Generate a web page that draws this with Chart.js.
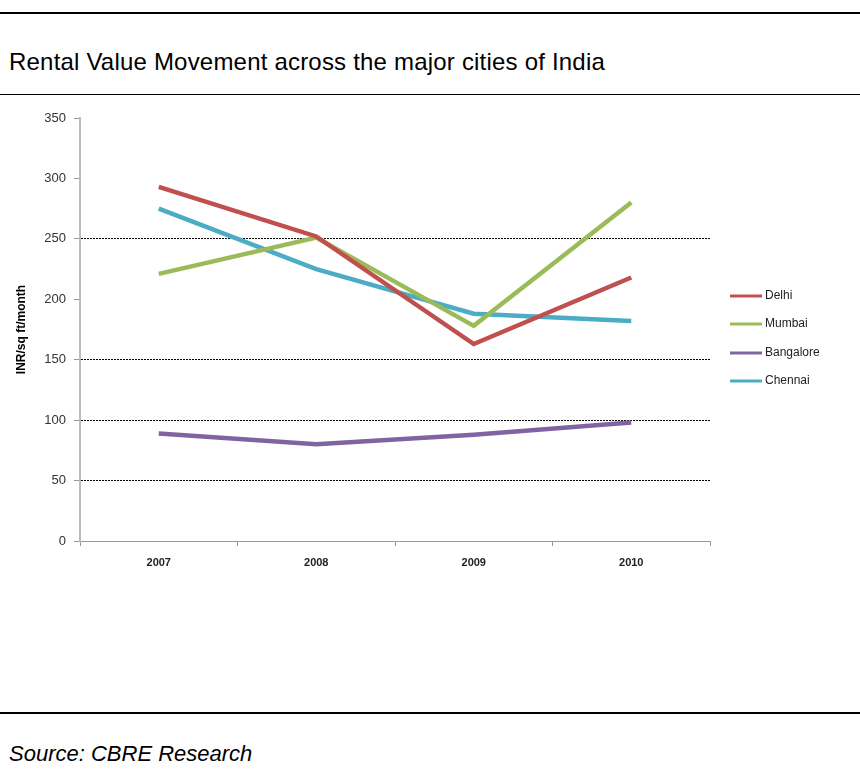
<!DOCTYPE html>
<html>
<head>
<meta charset="utf-8">
<script src="https://cdn.jsdelivr.net/npm/chart.js@4"></script>
<style>
  body { margin: 0; background: #fff; width: 860px; height: 783px; position: relative; overflow: hidden; }
  .rule { position: absolute; left: 0; width: 860px; background: #000; }
  #title { position: absolute; left: 9px; top: 48px; font: 24px "Liberation Sans", sans-serif; color: #000; letter-spacing: 0.2px; }
  #source { position: absolute; left: 9px; top: 741px; font: italic 22px "Liberation Sans", sans-serif; color: #000; }
  #wrap { position: absolute; left: 0; top: 100px; width: 860px; height: 480px; }
</style>
</head>
<body>
<div class="rule" style="top:12px;height:2px"></div>
<div id="title">Rental Value Movement across the major cities of India</div>
<div class="rule" style="top:94px;height:1px"></div>
<div id="wrap"><canvas id="chart"></canvas></div>
<div class="rule" style="top:712px;height:2px"></div>
<div id="source">Source: CBRE Research</div>
<script>
// данные
const years = ['2007', '2008', '2009', '2010'];
const delhi = [293, 252, 163, 218];
const mumbai = [221, 251, 178, 280];
const bangalore = [89, 80, 88, 98];
const chennai = [275, 225, 188, 182];
const yTicks = [0, 50, 100, 150, 200, 250, 300, 350];
const gridAt = [50, 100, 150, 250];

// легенда справа, рисуем сами
const sideLegend = {
    id: 'sideLegend',
    afterDraw(chart) {
        const c = chart.ctx;
        const ys = [196, 224, 253, 281];
        chart.data.datasets.forEach((ds, i) => {
            c.save();
            c.strokeStyle = ds.borderColor;
            c.lineWidth = 3;
            c.beginPath();
            c.moveTo(730, ys[i]);
            c.lineTo(762, ys[i]);
            c.stroke();
            c.fillStyle = '#222';
            c.font = '12px "Liberation Sans", sans-serif';
            c.textBaseline = 'middle';
            c.fillText(ds.label, 765, ys[i]);
            c.restore();
        });
    }
};

const line = (label, data, color) => ({
    label: label,
    data: data,
    borderColor: color,
    backgroundColor: color,
    borderWidth: 4.5,
    pointRadius: 0,
    tension: 0
});

new Chart(document.getElementById('chart'), {
    type: 'line',
    data: {
        labels: years,
        datasets: [
            line('Delhi', delhi, '#C0504D'),
            line('Mumbai', mumbai, '#9BBB59'),
            line('Bangalore', bangalore, '#8064A2'),
            line('Chennai', chennai, '#4BACC6')
        ]
    },
    plugins: [sideLegend],
    options: {
        responsive: true,
        maintainAspectRatio: false,
        animation: false,
        layout: { padding: { left: 14, right: 150, top: 18, bottom: 0 } },
        plugins: {
            legend: { display: false },
            tooltip: { enabled: false }
        },
        scales: {
            x: {
                offset: true,
                afterFit: s => { s.height = 39; },
                border: { color: '#999', width: 1 },
                grid: {
                    offset: true,
                    drawOnChartArea: false,
                    tickLength: 5,
                    tickColor: '#999'
                },
                ticks: {
                    color: '#222',
                    padding: 10,
                    font: { family: '"Liberation Sans", sans-serif', size: 11, weight: 'bold' }
                }
            },
            y: {
                min: 0,
                max: 350,
                afterFit: s => { s.width = 66; },
                afterBuildTicks: s => { s.ticks = yTicks.map(v => ({ value: v })); },
                border: { color: '#bbb', width: 2, dash: [2, 1] },
                grid: {
                    color: ctx => gridAt.includes(ctx.tick.value) ? '#000' : 'rgba(0,0,0,0)',
                    lineWidth: 1,
                    tickLength: 6,
                    tickColor: '#999'
                },
                ticks: {
                    color: '#333',
                    padding: 8,
                    font: { family: '"Liberation Sans", sans-serif', size: 13 }
                },
                title: {
                    display: true,
                    text: 'INR/sq ft/month',
                    color: '#000',
                    padding: { top: 0, bottom: 4 },
                    font: { family: '"Liberation Sans", sans-serif', size: 12, weight: 'bold' }
                }
            }
        }
    }
});
</script>
</body>
</html>
